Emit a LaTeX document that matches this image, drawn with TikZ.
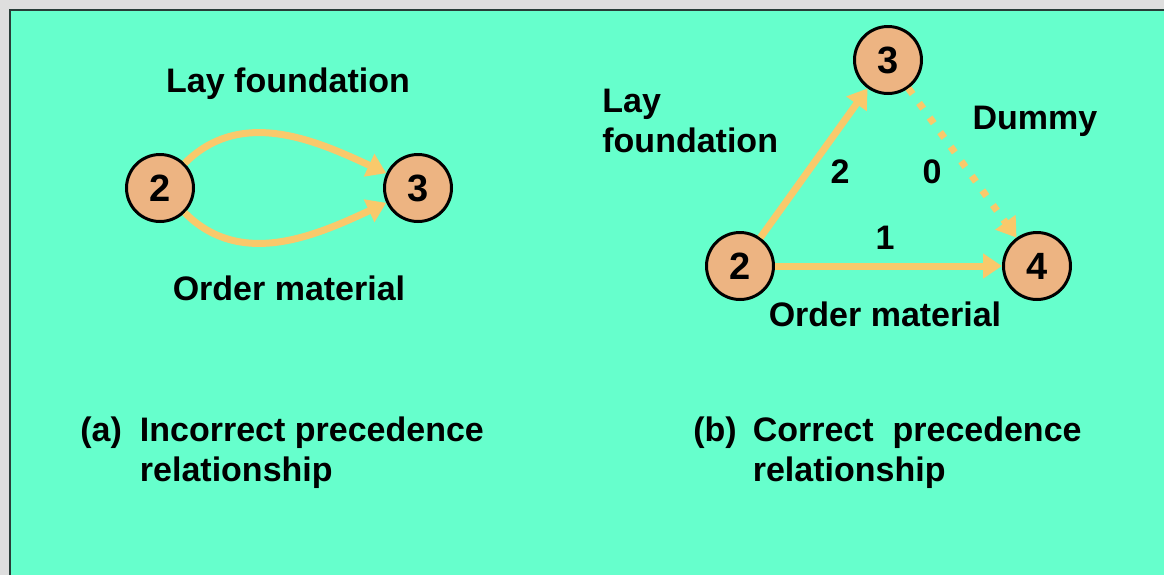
\documentclass[tikz,border=0pt]{standalone}
\usepackage{fontspec}
\setmainfont{Liberation Sans}
\usetikzlibrary{arrows.meta}
\definecolor{pagegrey}{RGB}{222,222,222}
\definecolor{slidebg}{RGB}{102,255,204}
\definecolor{slideedge}{RGB}{40,60,55}
\definecolor{evfill}{RGB}{237,180,130}
\definecolor{actline}{RGB}{249,201,107}

\begin{document}
\begin{tikzpicture}[x=0.5pt,y=0.5pt,>={Triangle[length=9.5pt,width=12pt]},
  font=\fontsize{17}{20}\selectfont\bfseries,
  event/.style={circle,draw=black,line width=1.5pt,fill=evfill,minimum size=33.5pt,inner sep=0pt,
    font=\fontsize{19}{22}\selectfont\bfseries},
  act/.style={->,actline,line width=3.5pt},
  dummy/.style={act,dash pattern=on 3.5pt off 5.5pt}]
% page and slide
\useasboundingbox (0,0) rectangle (1164,-575);
\fill[pagegrey] (0,0) rectangle (1164,-575);
\fill[slidebg] (10,-10) rectangle (1164,-575);
\draw[slideedge,line width=1pt] (10,-575) |- (1164,-10);
% (a) incorrect
\node[event] (a2) at (160,-188) {2};
\node[event] (a3) at (418,-188) {3};
\draw[act] (a2.45) to[out=45,in=155] (a3.155);
\draw[act] (a2.-45) to[out=-45,in=-155] (a3.-155);
\node (alay) at (288,-84) {Lay foundation};
\node (aord) at (289,-288) {Order material};
\node[anchor=west,inner sep=0pt] (acap) at (80,-453) {\begin{tabular}{@{}l@{\hspace{9pt}}l@{}}(a)&Incorrect precedence\\&relationship\end{tabular}};
% (b) correct, with dummy activity
\node[event] (b3) at (888,-60) {3};
\node[event] (b2) at (740,-266) {2};
\node[event] (b4) at (1037,-266) {4};
\draw[act] (b2) -- (b3);
\draw[act] (b2) -- (b4);
\draw[dummy] (b3) -- (b4);
\node[anchor=west,align=left,inner sep=0pt] (blay) at (602,-121) {Lay\\foundation};
\node (bdum) at (1035,-121) {Dummy};
\node (w23) at (840,-172) {2};
\node (w34) at (932,-172) {0};
\node (w24) at (885,-238) {1};
\node (bord) at (885,-314) {Order material};
\node[anchor=west,inner sep=0pt] (bcap) at (693,-453) {\begin{tabular}{@{}l@{\hspace{8pt}}l@{}}(b)&Correct\ \ precedence\\&relationship\end{tabular}};
\end{tikzpicture}
\end{document}
